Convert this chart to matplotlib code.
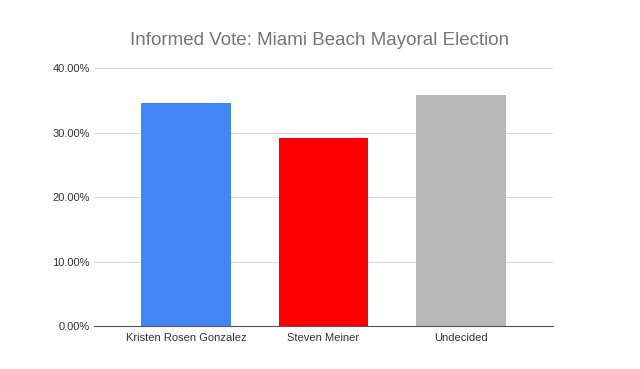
import matplotlib.pyplot as plt
from matplotlib.ticker import FuncFormatter

# Dane din grafic
candidates = ["Kristen Rosen Gonzalez", "Steven Meiner", "Undecided"]
shares = [34.6, 29.1, 35.8]
colors = ["#4285f4", "#ff0000", "#b7b7b7"]
yticks = [0, 10, 20, 30, 40]

plt.rcParams['font.family'] = ['Liberation Sans', 'DejaVu Sans']

fig = plt.figure(figsize=(6.4, 3.69), dpi=100)
ax = fig.add_axes([0.147, 0.1165, 0.717, 0.6992])

x = range(len(candidates))
ax.bar(x, shares, width=0.65, color=colors, zorder=3)

ax.set_xlim(-0.667, len(candidates) - 1 + 0.667)
ax.set_ylim(0, 40)
ax.set_yticks(yticks)
ax.yaxis.set_major_formatter(FuncFormatter(lambda v, p: f"{v:.2f}%"))
ax.set_xticks(list(x))
ax.set_xticklabels(candidates)

ax.grid(axis='y', color='#d9d9d9', linewidth=0.8, zorder=0)
for s in ['top', 'right', 'left']:
    ax.spines[s].set_visible(False)
ax.spines['bottom'].set_color('#555555')
ax.spines['bottom'].set_linewidth(0.8)
ax.spines['bottom'].set_zorder(4)
ax.tick_params(axis='both', length=0, labelsize=8, labelcolor='#333333')
ax.tick_params(axis='y', pad=3)
ax.tick_params(axis='x', pad=5)

fig.text(0.5, 0.89, "Informed Vote: Miami Beach Mayoral Election",
         ha='center', va='center', fontsize=13.5, color='#757575')

fig.savefig("out.png", dpi=100, facecolor='white')
